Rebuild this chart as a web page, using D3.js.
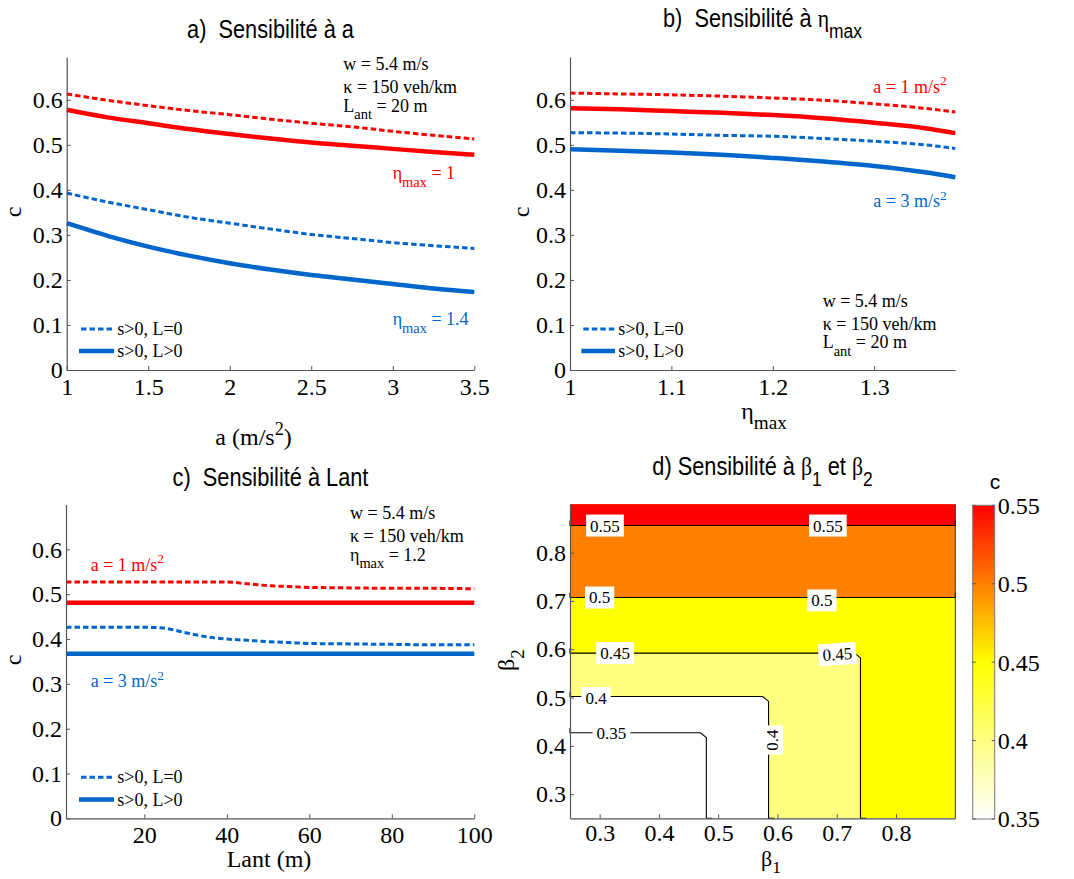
<!DOCTYPE html>
<html><head><meta charset="utf-8">
<script src="https://cdn.jsdelivr.net/npm/d3@7"></script>
<style>
body{margin:0;background:#fff;}
svg{display:block;background:#fff;}
text{white-space:pre;}
</style></head><body>
<svg id="chart" width="1074" height="879"></svg>
<script>
// ===================== DATA =====================
// Panel a : sensitivity to a
const aX          = [1, 1.25, 1.5, 1.75, 2, 2.25, 2.5, 2.75, 3, 3.25, 3.5];
const aRedDashed  = [0.613, 0.599, 0.587, 0.576, 0.567, 0.557, 0.548, 0.540, 0.530, 0.521, 0.513];
const aRedSolid   = [0.578, 0.561, 0.548, 0.535, 0.524, 0.514, 0.505, 0.498, 0.491, 0.484, 0.478];
const aBlueDashed = [0.393, 0.373, 0.356, 0.339, 0.326, 0.313, 0.301, 0.292, 0.283, 0.276, 0.270];
const aBlueSolid  = [0.326, 0.298, 0.274, 0.254, 0.237, 0.223, 0.211, 0.201, 0.191, 0.181, 0.173];
const aXTicks = [1, 1.5, 2, 2.5, 3, 3.5];

// Panel b : sensitivity to eta_max
const bX          = [1, 1.05, 1.1, 1.15, 1.2, 1.25, 1.3, 1.35, 1.38];
const bRedDashed  = [0.615, 0.613, 0.611, 0.608, 0.604, 0.599, 0.591, 0.581, 0.573];
const bRedSolid   = [0.581, 0.579, 0.575, 0.571, 0.566, 0.559, 0.549, 0.537, 0.526];
const bBlueDashed = [0.527, 0.526, 0.524, 0.521, 0.519, 0.514, 0.508, 0.500, 0.492];
const bBlueSolid  = [0.490, 0.487, 0.483, 0.478, 0.471, 0.463, 0.453, 0.439, 0.428];
const bXTicks = [1, 1.1, 1.2, 1.3];

// Panel c : sensitivity to Lant
const cX          = [1, 10, 20, 24, 30, 35, 40, 45, 50, 55, 60, 70, 80, 90, 100];
const cRedDashed  = [0.527, 0.527, 0.527, 0.527, 0.527, 0.527, 0.527, 0.523, 0.519, 0.517, 0.515, 0.514, 0.513, 0.513, 0.512];
const cRedSolid   = [0.481, 0.481, 0.481, 0.481, 0.481, 0.481, 0.481, 0.481, 0.481, 0.481, 0.481, 0.481, 0.481, 0.481, 0.481];
const cBlueDashed = [0.426, 0.426, 0.426, 0.425, 0.414, 0.405, 0.400, 0.397, 0.394, 0.392, 0.390, 0.389, 0.388, 0.387, 0.387];
const cBlueSolid  = [0.367, 0.367, 0.367, 0.367, 0.367, 0.367, 0.367, 0.367, 0.367, 0.367, 0.367, 0.367, 0.367, 0.367, 0.367];
const cXTicks = [20, 40, 60, 80, 100];

const cYTicks = [0, 0.1, 0.2, 0.3, 0.4, 0.5, 0.6];

// Panel d : c as a function of beta1 (columns) and beta2 (rows)
const beta1Grid = [0.25, 0.47, 0.49, 0.575, 0.595, 0.73, 0.75, 0.9];
const beta2Grid = [0.25, 0.417, 0.437, 0.492, 0.512, 0.582, 0.602, 0.697, 0.717, 0.846, 0.866, 0.9];
const cGrid = [
  [0.310, 0.345, 0.355, 0.395, 0.405, 0.445, 0.455, 0.470],
  [0.345, 0.345, 0.355, 0.395, 0.405, 0.445, 0.455, 0.470],
  [0.355, 0.355, 0.355, 0.395, 0.405, 0.445, 0.455, 0.470],
  [0.395, 0.395, 0.395, 0.395, 0.405, 0.445, 0.455, 0.470],
  [0.405, 0.405, 0.405, 0.405, 0.405, 0.445, 0.455, 0.470],
  [0.445, 0.445, 0.445, 0.445, 0.445, 0.445, 0.455, 0.470],
  [0.455, 0.455, 0.455, 0.455, 0.455, 0.455, 0.455, 0.470],
  [0.495, 0.495, 0.495, 0.495, 0.495, 0.495, 0.495, 0.495],
  [0.505, 0.505, 0.505, 0.505, 0.505, 0.505, 0.505, 0.505],
  [0.545, 0.545, 0.545, 0.545, 0.545, 0.545, 0.545, 0.545],
  [0.555, 0.555, 0.555, 0.555, 0.555, 0.555, 0.555, 0.555],
  [0.565, 0.565, 0.565, 0.565, 0.565, 0.565, 0.565, 0.565]
];
const contourLevels = [0.35, 0.4, 0.45, 0.5, 0.55];
const dXTicks = [0.3, 0.4, 0.5, 0.6, 0.7, 0.8];
const dYTicks = [0.3, 0.4, 0.5, 0.6, 0.7, 0.8];
const colorbarTicks = [0.35, 0.4, 0.45, 0.5, 0.55];
const contourLabels = [
  {t: "0.55", b1: 0.309, b2: 0.856},
  {t: "0.55", b1: 0.685, b2: 0.856},
  {t: "0.5",  b1: 0.300, b2: 0.707},
  {t: "0.5",  b1: 0.675, b2: 0.701},
  {t: "0.45", b1: 0.326, b2: 0.592},
  {t: "0.45", b1: 0.701, b2: 0.590, r: -4},
  {t: "0.4",  b1: 0.294, b2: 0.499},
  {t: "0.4",  b1: 0.591, b2: 0.412, r: -90},
  {t: "0.35", b1: 0.320, b2: 0.427}
];

// ===================== STYLE =====================
const SERIF = "'Liberation Serif','Times New Roman',serif";
const SANS = "'Liberation Sans',Arial,sans-serif";
const RED = "#ff0000", BLUE = "#0066cc", AXIS = "#555";

const svg = d3.select("#chart");

function rich(parent, x, y, str, o = {}) {
  const size = o.size || 18;
  const subDrop = o.subDrop || 0.42;
  let host = parent;
  if (o.sx) { // horizontally condensed text
    host = parent.append("g").attr("transform", `translate(${x},${y}) scale(${o.sx},1)`);
    x = 0; y = 0;
  }
  const t = host.append("text")
    .style("font-family", o.family || SERIF)
    .style("font-size", size + "px")
    .attr("fill", o.fill || "#000")
    .attr("text-anchor", o.anchor || "start");
  if (o.rotate) t.attr("transform", `translate(${x},${y}) rotate(${o.rotate})`);
  else t.attr("x", x).attr("y", y);
  const parts = str.split(/([_^]\{[^}]*\})/).filter(p => p.length);
  let cur = 0;
  parts.forEach(p => {
    let target = 0, s = p, fs = null;
    if (p[0] === "_") { target = size * subDrop; s = p.slice(2, -1); fs = size * 0.8; }
    else if (p[0] === "^") { target = -size * 0.42; s = p.slice(2, -1); fs = size * 0.75; }
    const chunks = s.split(/([\u0370-\u03ff])/).filter(c => c.length);
    let first = true;
    chunks.forEach(c => {
      const ts = t.append("tspan").text(c);
      if (first) { ts.attr("dy", target - cur); first = false; }
      if (fs) ts.style("font-size", fs + "px");
      if (/[\u0370-\u03ff]/.test(c)) ts.style("font-family", SERIF);
    });
    cur = target;
  });
  return t;
}

function drawAxes(g, x, y, xticks, yticks, xPad = 8) {
  const ax = g.append("g").attr("transform", `translate(0,${y.range()[0]})`)
    .call(d3.axisBottom(x).tickValues(xticks).tickFormat(d => String(d))
      .tickSizeInner(-4).tickSizeOuter(0).tickPadding(xPad));
  const ay = g.append("g").attr("transform", `translate(${x.range()[0]},0)`)
    .call(d3.axisLeft(y).tickValues(yticks).tickFormat(d => String(d))
      .tickSizeInner(-4).tickSizeOuter(0).tickPadding(4));
  [ax, ay].forEach(a => {
    a.attr("font-family", null).attr("font-size", null);
    a.select(".domain").attr("stroke", AXIS).attr("stroke-width", 1.2);
    a.selectAll(".tick line").attr("stroke", AXIS);
    a.selectAll(".tick text").style("font-family", SERIF).style("font-size", "24px").attr("fill", "#000");
  });
}

function drawLines(g, x, y, xs, series) {
  const line = d3.line().x((d, i) => x(xs[i])).y(d => y(d)).curve(d3.curveMonotoneX);
  series.forEach(s => {
    g.append("path").attr("d", line(s.v)).attr("fill", "none")
      .attr("stroke", s.c).attr("stroke-width", s.dash ? 3 : 4.5)
      .attr("stroke-dasharray", s.dash ? "5.5,3" : null);
  });
}

function legend(g, x0, x1, yA, yB, tx) {
  g.append("line").attr("x1", x0).attr("x2", x1).attr("y1", yA).attr("y2", yA)
    .attr("stroke", BLUE).attr("stroke-width", 3).attr("stroke-dasharray", "5.5,3");
  g.append("line").attr("x1", x0 - 2).attr("x2", x1).attr("y1", yB).attr("y2", yB)
    .attr("stroke", BLUE).attr("stroke-width", 4.5);
  rich(g, tx, yA + 6, "s>0, L=0", {size: 18});
  rich(g, tx, yB + 6, "s>0, L>0", {size: 18});
}

const TITLE = {size: 25, family: SANS, anchor: "middle", sx: 0.87};

// ===================== PANEL A =====================
{
  const g = svg.append("g");
  const x = d3.scaleLinear().domain([1, 3.5]).range([66.7, 474.3]);
  const y = d3.scaleLinear().domain([0, 0.695]).range([370, 57]);
  drawLines(g, x, y, aX, [
    {v: aRedDashed, c: RED, dash: true}, {v: aRedSolid, c: RED},
    {v: aBlueDashed, c: BLUE, dash: true}, {v: aBlueSolid, c: BLUE}]);
  drawAxes(g, x, y, aXTicks, cYTicks);
  rich(g, 270.5, 37.5, "a)  Sensibilité à a", TITLE);
  rich(g, 21, 212, "c", {size: 24, anchor: "middle", rotate: -90});
  rich(g, 253.5, 445, "a (m/s^{2})", {size: 24, anchor: "middle"});
  rich(g, 343.3, 70, "w = 5.4 m/s");
  rich(g, 343.3, 92.7, "κ = 150 veh/km");
  rich(g, 343.3, 111.7, "L_{ant} = 20 m");
  rich(g, 392.7, 179, "η_{max} = 1", {fill: RED});
  rich(g, 392.7, 325, "η_{max} = 1.4", {fill: BLUE});
  legend(g, 81, 114, 329, 351, 117.3);
}

// ===================== PANEL B =====================
{
  const g = svg.append("g");
  const x = d3.scaleLinear().domain([1, 1.38]).range([570, 955.3]);
  const y = d3.scaleLinear().domain([0, 0.695]).range([370, 57]);
  drawLines(g, x, y, bX, [
    {v: bRedDashed, c: RED, dash: true}, {v: bRedSolid, c: RED},
    {v: bBlueDashed, c: BLUE, dash: true}, {v: bBlueSolid, c: BLUE}]);
  drawAxes(g, x, y, bXTicks, cYTicks);
  rich(g, 762.5, 27, "b)  Sensibilité à η_{max}", TITLE);
  rich(g, 529, 212, "c", {size: 24, anchor: "middle", rotate: -90});
  rich(g, 764, 419, "η_{max}", {size: 24, anchor: "middle"});
  rich(g, 873.3, 92.7, "a = 1 m/s^{2}", {fill: RED});
  rich(g, 873.3, 207.3, "a = 3 m/s^{2}", {fill: BLUE});
  rich(g, 822.7, 307.3, "w = 5.4 m/s");
  rich(g, 822.7, 330, "κ = 150 veh/km");
  rich(g, 822.7, 348.3, "L_{ant} = 20 m");
  legend(g, 583.3, 615, 329, 351, 618.3);
}

// ===================== PANEL C =====================
{
  const g = svg.append("g");
  const x = d3.scaleLinear().domain([1, 100]).range([66, 474.3]);
  const y = d3.scaleLinear().domain([0, 0.7]).range([818.3, 504.5]);
  drawLines(g, x, y, cX, [
    {v: cRedDashed, c: RED, dash: true}, {v: cRedSolid, c: RED},
    {v: cBlueDashed, c: BLUE, dash: true}, {v: cBlueSolid, c: BLUE}]);
  drawAxes(g, x, y, cXTicks, cYTicks);
  rich(g, 270.5, 486, "c)  Sensibilité à Lant", TITLE);
  rich(g, 21, 660, "c", {size: 24, anchor: "middle", rotate: -90});
  rich(g, 269, 867, "Lant (m)", {size: 24, anchor: "middle"});
  rich(g, 350, 519, "w = 5.4 m/s");
  rich(g, 350, 541.7, "κ = 150 veh/km");
  rich(g, 350, 560.5, "η_{max} = 1.2");
  rich(g, 90.7, 570.7, "a = 1 m/s^{2}", {fill: RED});
  rich(g, 90.7, 687.3, "a = 3 m/s^{2}", {fill: BLUE});
  legend(g, 81, 114, 777.3, 799.5, 117.3);
}

// ===================== PANEL D =====================
{
  const g = svg.append("g");
  const x = d3.scaleLinear().domain([0.25, 0.9]).range([570, 955.3]);
  const y = d3.scaleLinear().domain([0.25, 0.9]).range([818.3, 504.3]);
  const color = d3.scaleLinear().domain([0.35, 0.45, 0.5, 0.55])
    .range(["#ffffff", "#ffff00", "#ff8000", "#ff0000"]).clamp(true);
  const n = beta1Grid.length, m = beta2Grid.length;
  const i1 = d3.scaleLinear().domain(d3.range(n)).range(beta1Grid).clamp(true);
  const i2 = d3.scaleLinear().domain(d3.range(m)).range(beta2Grid).clamp(true);
  const P = p => [x(i1(p[0] - 0.5)), y(i2(p[1] - 0.5))];
  const values = cGrid.flat();
  const contours = d3.contours().size([n, m]).thresholds(contourLevels)(values);

  g.append("rect").attr("x", x(0.25)).attr("y", y(0.9))
    .attr("width", x(0.9) - x(0.25)).attr("height", y(0.25) - y(0.9)).attr("fill", color(0.35));
  contours.forEach(c => {
    let d = "";
    c.coordinates.forEach(poly => poly.forEach(ring => {
      d += "M" + ring.map(p => P(p).join(",")).join("L") + "Z";
    }));
    g.append("path").attr("d", d).attr("fill", color(c.value)).attr("fill-rule", "evenodd");
  });
  const onFrame = (a, b) => (a[0] === 0 && b[0] === 0) || (a[0] === n && b[0] === n) ||
                            (a[1] === 0 && b[1] === 0) || (a[1] === m && b[1] === m);
  contours.forEach(c => {
    let d = "";
    c.coordinates.forEach(poly => poly.forEach(ring => {
      let pen = false;
      for (let k = 1; k < ring.length; k++) {
        const a = ring[k - 1], b = ring[k];
        if (onFrame(a, b)) { pen = false; continue; }
        if (!pen) { d += "M" + P(a).join(","); pen = true; }
        d += "L" + P(b).join(",");
      }
    }));
    g.append("path").attr("d", d).attr("fill", "none").attr("stroke", "#000").attr("stroke-width", 1.1);
  });
  g.append("line").attr("x1", x(0.9)).attr("x2", x(0.9)).attr("y1", y(0.9)).attr("y2", y(0.25))
    .attr("stroke", "#333").attr("stroke-width", 1);
  contourLabels.forEach(l => {
    const lg = g.append("g").attr("transform", `translate(${x(l.b1)},${y(l.b2)}) rotate(${l.r || 0})`);
    const t = lg.append("text").style("font-family", SERIF).style("font-size", "17px")
      .attr("text-anchor", "middle").attr("dy", "0.35em").text(l.t);
    const w = t.node().getComputedTextLength();
    lg.insert("rect", "text").attr("x", -w / 2 - 4).attr("y", -11).attr("width", w + 8).attr("height", 22)
      .attr("fill", "#fff");
  });
  drawAxes(g, x, y, dXTicks, dYTicks, 6);
  rich(g, 762.5, 475, "d) Sensibilité à β_{1} et β_{2}", TITLE);
  rich(g, 514, 660, "β_{2}", {size: 24, anchor: "middle", rotate: -90});
  rich(g, 771, 866, "β_{1}", {size: 22, anchor: "middle", subDrop: 0.34});

  // colorbar
  const cb = d3.scaleLinear().domain([0.35, 0.55]).range([819, 505.3]);
  const defs = svg.append("defs");
  const grad = defs.append("linearGradient").attr("id", "cbgrad")
    .attr("x1", 0).attr("y1", 1).attr("x2", 0).attr("y2", 0);
  d3.range(0, 21).forEach(k => {
    const v = 0.35 + k * 0.01;
    grad.append("stop").attr("offset", k / 20).attr("stop-color", color(v));
  });
  const cx0 = 972.7, cx1 = 994.7;
  g.append("rect").attr("x", cx0).attr("y", cb(0.55)).attr("width", cx1 - cx0)
    .attr("height", cb(0.35) - cb(0.55)).attr("fill", "url(#cbgrad)")
    .attr("stroke", "#777").attr("stroke-width", 1);
  colorbarTicks.forEach(v => {
    g.append("line").attr("x1", cx0).attr("x2", cx0 + 3).attr("y1", cb(v)).attr("y2", cb(v)).attr("stroke", AXIS);
    g.append("line").attr("x1", cx1 - 3).attr("x2", cx1).attr("y1", cb(v)).attr("y2", cb(v)).attr("stroke", AXIS);
    g.append("text").attr("x", cx1 + 3).attr("y", cb(v)).attr("dy", "0.35em")
      .style("font-family", SERIF).style("font-size", "24px").text(String(v));
  });
  rich(g, 995, 489, "c", {size: 21, family: SANS, anchor: "middle"});
}
</script>
</body></html>
